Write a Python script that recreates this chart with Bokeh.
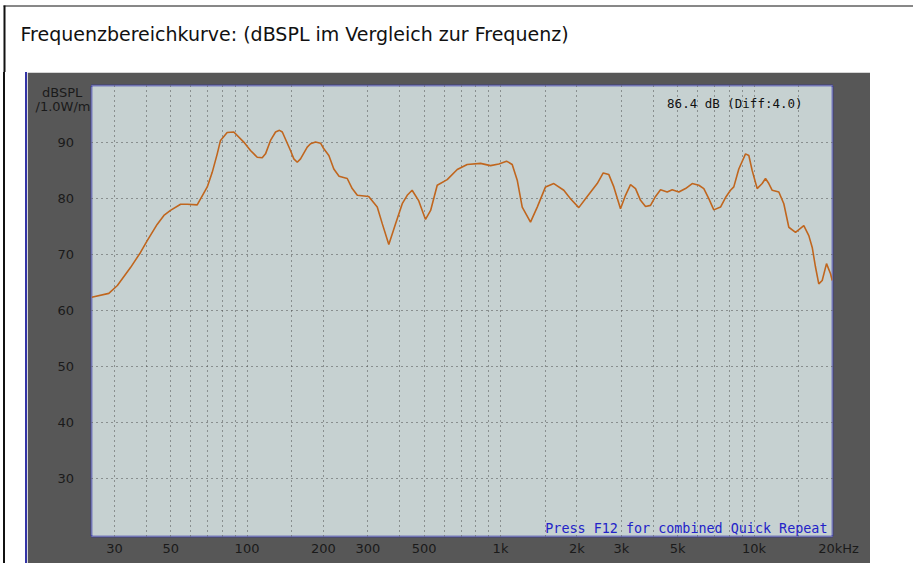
from bokeh.plotting import figure
from bokeh.models import FixedTicker, Label, Range1d, Spacer
from bokeh.layouts import column, row
from bokeh.embed import file_html
from bokeh.resources import INLINE

# ---- data ----
freq_hz = [24.4, 28.5, 30.8, 34.7, 38.0, 40.4, 44.2, 47.0, 49.9, 54.7, 58.1, 63.6,
           69.7, 72.9, 76.3, 78.6, 83.5, 88.7, 97.1, 103.2, 109.7, 114.8, 118.3,
           123.8, 129.6, 134.3, 137.8, 148.4, 153, 157.8, 162.6, 172.8, 178.1, 186.3,
           195, 200.9, 210.3, 220, 230.7, 248.5, 260, 272.4, 302, 326.4, 341.8, 362.5,
           385.2, 409.6, 428.5, 448, 476, 506, 530, 562.7, 616, 675, 739, 834, 913,
           985, 1056, 1112, 1164, 1218, 1313, 1396, 1505, 1623, 1777, 1888, 2036,
           2198, 2407, 2542, 2675, 2799, 2974, 3112, 3257, 3409, 3567, 3733, 3906,
           4088, 4278, 4546, 4756, 5051, 5368, 5705, 6058, 6339, 6633, 6941, 7377,
           7721, 8077, 8323, 8710, 9259, 9540, 9838, 10290, 10770, 11100, 11440,
           11800, 12530, 13110, 13720, 14580, 15720, 16450, 16970, 17480, 18010,
           18580, 19320, 20040, 20350]
spl_db = [62.3, 63.0, 64.4, 67.6, 70.3, 72.4, 75.3, 76.9, 77.8, 78.9, 78.9, 78.8,
          82.0, 84.6, 87.9, 90.3, 91.7, 91.8, 90.0, 88.5, 87.3, 87.2, 87.9,
          90.3, 91.8, 92.1, 91.8, 88.5, 87.0, 86.4, 87.0, 89.1, 89.7, 90.0,
          89.8, 88.8, 87.6, 85.2, 83.9, 83.5, 81.7, 80.5, 80.3, 78.4, 75.4, 71.7,
          75.4, 79.0, 80.5, 81.4, 79.5, 76.2, 77.8, 82.3, 83.3, 85.1, 86.0, 86.2, 85.8,
          86.1, 86.6, 86.0, 83.2, 78.4, 75.7, 78.4, 82.0, 82.6, 81.4, 79.9, 78.3,
          80.3, 82.6, 84.5, 84.2, 82.0, 78.1, 80.5, 82.4, 81.7, 79.6, 78.5, 78.7,
          80.3, 81.5, 81.1, 81.5, 81.1, 81.7, 82.6, 82.3, 81.7, 79.9, 77.9, 78.4,
          80.1, 81.4, 82.0, 85.2, 87.9, 87.6, 84.9, 81.7, 82.6, 83.5, 82.6,
          81.4, 81.1, 79.0, 74.8, 73.9, 75.1, 73.3, 71.2, 67.7, 64.7,
          65.3, 68.3, 66.5, 65.3]

NB = "\u00a0"
x_tick_freqs = [30, 50, 100, 200, 300, 500, 1000, 2000, 3000, 5000, 10000, 20000]
x_tick_labels = ["30", "50", "100", "200", "300", "500", "1k", "2k", "3k", "5k", "10k",
                 NB * 4 + "20kHz"]
x_grid_freqs = [30, 40, 50, 60, 70, 80, 90, 100, 150, 200, 300, 400, 500, 600, 700,
                800, 900, 1000, 1500, 2000, 3000, 4000, 5000, 6000, 7000, 8000, 9000,
                10000, 15000]
y_ticks = [30, 40, 50, 60, 70, 80, 90]
y_tick_labels = [str(v) + NB * 4 for v in y_ticks]
unit_ticks = [96.38, 98.83]
unit_labels = ["/1.0W/m", "dBSPL" + NB * 2]

title_text = "Frequenzbereichkurve: (dBSPL im Vergleich zur Frequenz)"
info_text = "86.4 dB (Diff:4.0)"
hint_text = "Press F12 for combined Quick Repeat"

# ---- title strip (white, with the outer box lines) ----
t = figure(width=913, height=72, x_range=Range1d(0, 913), y_range=Range1d(0, 72),
           x_axis_type=None, y_axis_type=None, toolbar_location=None,
           output_backend="svg", min_border=0, outline_line_color=None,
           background_fill_color="white", border_fill_color="white")
t.segment(x0=[4, 3], y0=[67, 66.5], x1=[4, 913], y1=[0, 66.5],
          line_color=["#111111", "#111111"], line_width=[2, 1])
t.add_layout(Label(x=20, y=39, text=title_text, text_font="DejaVu Sans",
                   text_font_size="19px", text_baseline="middle", text_color="#111111"))

# ---- left white strip: outer box line and blue panel edge ----
lf = Spacer(width=27, height=491,
            styles={"box-shadow": "inset 3px 0 0 0 #ffffff, inset 5px 0 0 0 #111111, "
                                  "inset -2px 0 0 0 #3434a6"})

# ---- main chart ----
p = figure(width=843, height=491, x_axis_type="log",
           x_range=Range1d(24.35, 20400), y_range=Range1d(19.6, 100.1),
           toolbar_location=None, output_backend="svg",
           min_border_left=64, min_border_right=38, min_border_top=13, min_border_bottom=27,
           background_fill_color="#c6d1d1", border_fill_color="#575757")

p.outline_line_color = "#2a2aa8"
p.outline_line_width = 2
p.outline_line_dash = "1 1"

for ax in (p.xaxis, p.yaxis):
    ax.axis_line_color = None
    ax.major_tick_line_color = None
    ax.minor_tick_line_color = None
    ax.major_tick_out = 0
    ax.major_tick_in = 0
    ax.minor_tick_out = 0
    ax.minor_tick_in = 0
    ax.major_label_text_font = "DejaVu Sans"
    ax.major_label_text_font_size = "13px"
    ax.major_label_text_color = "#1a1a1a"

p.xaxis.ticker = FixedTicker(ticks=x_tick_freqs)
p.xaxis.major_label_overrides = {f: l for f, l in zip(x_tick_freqs, x_tick_labels)}
p.xaxis.major_label_standoff = 4
p.yaxis.ticker = FixedTicker(ticks=y_ticks + unit_ticks)
p.yaxis.major_label_overrides = {v: l for v, l in zip(y_ticks + unit_ticks,
                                                      y_tick_labels + unit_labels)}
p.yaxis.major_label_standoff = 1

p.xgrid.ticker = FixedTicker(ticks=x_grid_freqs)
p.ygrid.ticker = FixedTicker(ticks=y_ticks)
for g in (p.xgrid, p.ygrid):
    g.grid_line_color = "#4d4d4d"
    g.grid_line_dash = "1 4"
    g.grid_line_width = 1

p.line(freq_hz, spl_db, line_color="#c0661e", line_width=1.6)

p.add_layout(Label(x=15540, y=96.87, text=info_text, text_align="right", text_baseline="middle",
                   text_font="DejaVu Sans Mono", text_font_size="12.5px", text_color="#111111"))
p.add_layout(Label(x=19490, y=19.75, text=hint_text, text_align="right", text_baseline="bottom",
                   text_font="DejaVu Sans Mono", text_font_size="13.4px", text_color="#2323c8"))

layout = column(t, row(lf, p))

open("out.html", "w").write(file_html(layout, INLINE))
